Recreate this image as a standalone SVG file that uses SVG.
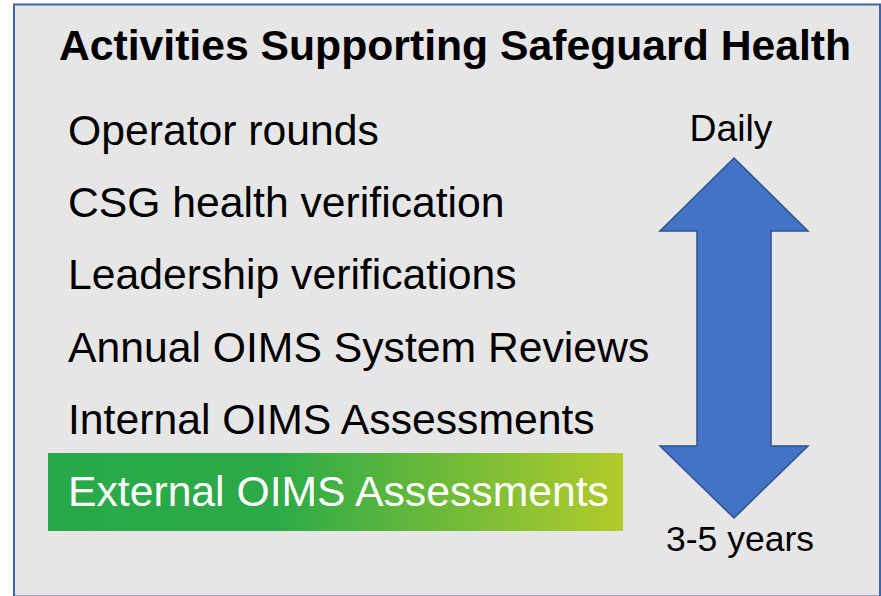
<svg xmlns="http://www.w3.org/2000/svg" width="881" height="596" viewBox="0 0 881 596">
<style>
.item{font-family:"Liberation Sans",Arial,sans-serif;font-size:42.7px;fill:#000}
.lbl{font-family:"Liberation Sans",Arial,sans-serif;fill:#000;text-anchor:middle}
</style>
<defs>
<linearGradient id="g" x1="0" y1="0" x2="1" y2="0">
<stop offset="0" stop-color="#28A948"/>
<stop offset="0.4" stop-color="#2DAA47"/>
<stop offset="1" stop-color="#B3CB2B"/>
</linearGradient>
</defs>
<rect x="0" y="0" width="881" height="596" fill="#ffffff"/>
<rect id="frame" x="14" y="4.5" width="866" height="592" fill="#E6E6E6" stroke="#3E64AA" stroke-width="2"/>
<g id="title"><text x="455" y="60" text-anchor="middle" font-family="'Liberation Sans',Arial,sans-serif" font-size="42.7" font-weight="bold" fill="#000">Activities Supporting Safeguard Health</text></g>
<g id="item1"><text class="item" x="68" y="145">Operator rounds</text></g>
<g id="item2"><text class="item" x="68" y="217">CSG health verification</text></g>
<g id="item3"><text class="item" x="68" y="289">Leadership verifications</text></g>
<g id="item4"><text class="item" x="68" y="362">Annual OIMS System Reviews</text></g>
<g id="item5"><text class="item" x="68" y="434">Internal OIMS Assessments</text></g>
<g id="item6"><rect x="48" y="453" width="575" height="78" fill="url(#g)"/><text class="item" x="68" y="506" style="fill:#fff">External OIMS Assessments</text></g>
<g id="arrow"><path d="M734,158 L808,231 L771,231 L771,446 L808,446 L734,518 L660,446 L697,446 L697,231 L660,231 Z" fill="#4472C4" stroke="#2F528F" stroke-width="1.5"/></g>
<g id="daily"><text class="lbl" x="731" y="141" font-size="37.3">Daily</text></g>
<g id="years"><text class="lbl" x="740" y="551" font-size="35.5">3-5 years</text></g>
</svg>
